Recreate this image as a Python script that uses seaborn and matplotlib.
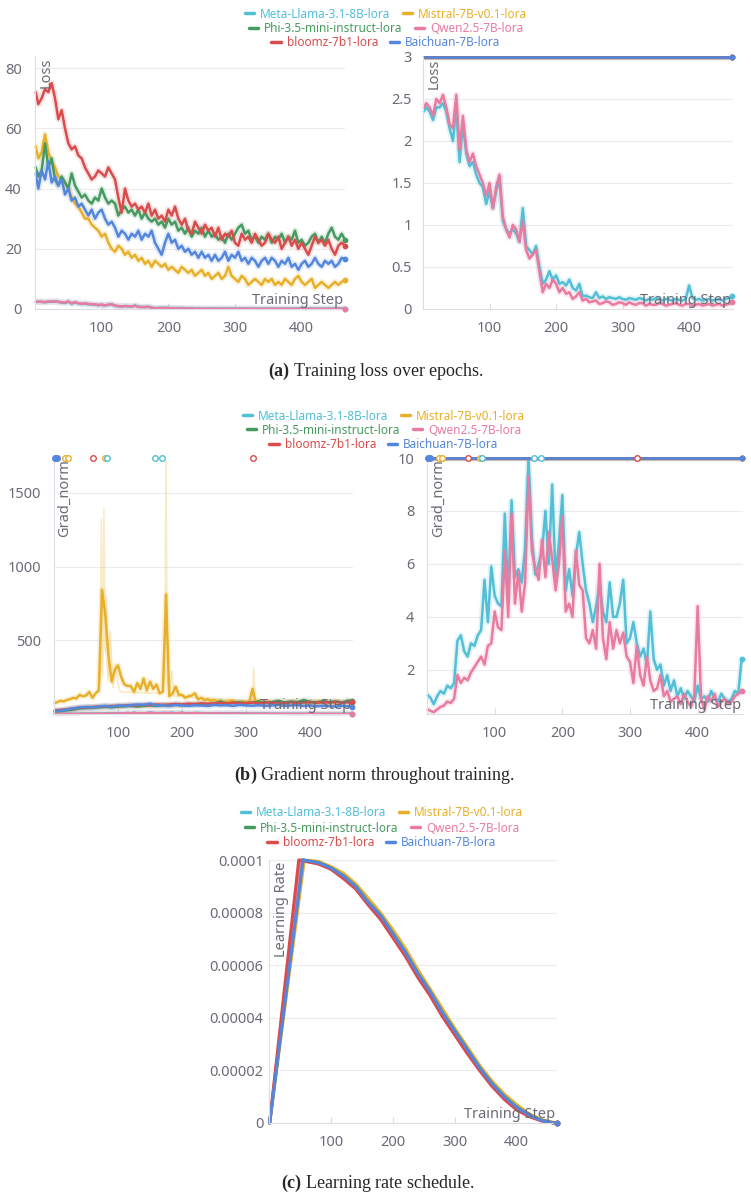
import numpy as np
import pandas as pd
import seaborn as sns
from matplotlib import pyplot as plt
from matplotlib.lines import Line2D

RUNS = ['Meta-Llama-3.1-8B-lora', 'Mistral-7B-v0.1-lora', 'Phi-3.5-mini-instruct-lora',
        'Qwen2.5-7B-lora', 'bloomz-7b1-lora', 'Baichuan-7B-lora']
COLORS = ['#52bfd6', '#e8b02a', '#479a5f', '#e87b9f', '#da4c4c', '#5387dd']
PALETTE = dict(zip(RUNS, COLORS))

STEPS_10 = [1] + list(range(10, 461, 10)) + [465]
STEPS_5 = [1] + list(range(5, 466, 5))

# loss (steps 1, 5, 10, ... 465)
LOSS_MISTRAL = [54, 50, 52, 58, 52, 49, 47, 44, 43, 42,
                40, 37, 35, 34, 32, 30, 30, 28, 27, 26,
                24, 25, 22, 20, 19, 21, 20, 18, 19, 17,
                18, 16, 17, 15, 16, 14, 16, 15, 14, 15,
                13, 14, 13, 12, 14, 13, 12, 13, 11, 12,
                13, 11, 12, 10, 11, 12, 10, 11, 14, 11,
                10, 9, 11, 10, 8, 9, 10, 9, 8, 10,
                9, 10, 8, 9, 8, 10, 9, 8, 10, 11,
                9, 8, 9, 10, 7, 8, 9, 8, 7, 8,
                9, 8, 9, 9.5]
LOSS_PHI = [47, 44, 46, 55, 47, 50, 43, 41, 44, 42,
            40, 45, 41, 39, 37, 38, 36, 35, 37, 36,
            40, 37, 35, 36, 35, 31, 33, 34, 32, 33,
            31, 33, 30, 32, 30, 29, 30, 28, 29, 27,
            30, 28, 29, 26, 27, 25, 27, 24, 26, 25,
            27, 24, 26, 24, 25, 23, 24, 22, 25, 23,
            25, 27, 28, 25, 26, 23, 24, 22, 24, 23,
            25, 22, 24, 23, 25, 22, 24, 23, 26, 22,
            23, 21, 22, 24, 25, 22, 24, 22, 25, 27,
            24, 23, 25, 23]
LOSS_BLOOMZ = [72, 68, 70, 73, 72, 75, 70, 63, 66, 60,
               55, 53, 54, 51, 50, 47, 45, 43, 44, 46,
               45, 44, 47, 45, 43, 37, 32, 40, 36, 34,
               35, 33, 34, 32, 35, 31, 33, 30, 31, 29,
               33, 31, 34, 30, 28, 30, 26, 25, 29, 27,
               25, 28, 26, 27, 24, 27, 23, 25, 24, 26,
               22, 21, 25, 23, 24, 22, 25, 23, 21, 22,
               25, 23, 22, 24, 20, 22, 24, 21, 23, 20,
               22, 20, 18, 21, 24, 22, 23, 21, 23, 20,
               18, 21, 22, 21]
LOSS_BAICHUAN = [45, 40, 46, 43, 49, 42, 44, 41, 43, 38,
                 40, 36, 37, 34, 35, 33, 31, 33, 30, 32,
                 33, 30, 28, 29, 27, 24, 26, 25, 23, 25,
                 24, 26, 23, 25, 24, 26, 22, 20, 18, 22,
                 25, 22, 23, 20, 21, 19, 20, 18, 19, 17,
                 19, 17, 18, 16, 18, 16, 17, 19, 16, 18,
                 17, 19, 16, 17, 15, 17, 16, 14, 16, 17,
                 15, 17, 16, 14, 16, 15, 17, 14, 15, 13,
                 15, 16, 14, 15, 17, 15, 14, 16, 15, 16,
                 14, 15, 17, 16.5]
LOSS_QWEN = [2.40, 2.45, 2.40, 2.30, 2.50, 2.45, 2.55, 2.40, 2.20, 2.15,
             2.55, 1.90, 2.30, 1.90, 1.75, 1.85, 1.70, 1.60, 1.50, 1.35,
             1.50, 1.20, 1.45, 1.60, 1.10, 0.95, 0.85, 1.00, 0.95, 0.80,
             1.05, 0.70, 0.60, 0.65, 0.70, 0.45, 0.20, 0.30, 0.25, 0.35,
             0.30, 0.20, 0.25, 0.18, 0.20, 0.12, 0.15, 0.20, 0.10, 0.12,
             0.08, 0.09, 0.10, 0.06, 0.07, 0.09, 0.08, 0.05, 0.06, 0.08,
             0.07, 0.05, 0.08, 0.06, 0.05, 0.07, 0.07, 0.04, 0.06, 0.05,
             0.05, 0.07, 0.06, 0.04, 0.05, 0.06, 0.07, 0.05, 0.04, 0.06,
             0.06, 0.04, 0.05, 0.06, 0.04, 0.05, 0.06, 0.04, 0.05, 0.06,
             0.04, 0.05, 0.06, 0.08]
LOSS_META = [2.35, 2.40, 2.35, 2.25, 2.40, 2.40, 2.45, 2.35, 2.15, 2.00,
             2.40, 1.75, 2.20, 1.85, 1.70, 1.75, 1.60, 1.50, 1.45, 1.25,
             1.40, 1.20, 1.40, 1.55, 1.05, 0.95, 0.90, 0.95, 0.90, 0.80,
             1.20, 0.75, 0.70, 0.65, 0.75, 0.50, 0.30, 0.35, 0.45, 0.35,
             0.40, 0.30, 0.32, 0.28, 0.35, 0.25, 0.22, 0.30, 0.15, 0.16,
             0.14, 0.13, 0.20, 0.13, 0.15, 0.12, 0.14, 0.13, 0.12, 0.14,
             0.12, 0.11, 0.13, 0.12, 0.11, 0.13, 0.12, 0.10, 0.12, 0.11,
             0.13, 0.12, 0.10, 0.12, 0.11, 0.10, 0.12, 0.11, 0.10, 0.12,
             0.28, 0.13, 0.11, 0.12, 0.10, 0.11, 0.12, 0.10, 0.11, 0.12,
             0.10, 0.12, 0.13, 0.15]

# grad_norm
GRAD_MISTRAL = [75, 80, 90, 85, 95, 100, 110, 105, 130, 120,
                125, 150, 110, 140, 160, 840, 680, 400, 220, 300,
                330, 250, 200, 190, 190, 150, 210, 170, 240, 160,
                220, 170, 200, 140, 150, 810, 120, 140, 185, 130,
                130, 110, 120, 125, 140, 100, 110, 95, 100, 90,
                95, 85, 90, 80, 85, 90, 90, 75, 80, 85,
                75, 80, 170, 80, 90, 75, 80, 85, 70, 80,
                75, 85, 70, 80, 75, 85, 80, 75, 85, 70,
                80, 75, 85, 80, 75, 85, 80, 75, 80, 85,
                75, 80, 85, 80]
# raw (unsmoothed) Mistral spikes, drawn faint
RAW_MISTRAL_STEPS = [68, 72, 74, 76, 78, 80, 82, 84, 88, 92, 96, 100, 104,
                     165, 170, 173, 175, 177, 180, 184, 188, 310, 312, 314]
RAW_MISTRAL = [150, 220, 1320, 260, 1390, 420, 800, 230, 560, 180, 340, 200, 150,
               140, 160, 260, 1720, 240, 130, 290, 120, 90, 310, 90]
GRAD_PHI = [15, 18, 25, 30, 38, 40, 42, 45, 48, 45,
            50, 52, 55, 50, 55, 58, 55, 60, 58, 62,
            60, 65, 62, 68, 65, 70, 85, 72, 75, 80,
            72, 78, 85, 75, 80, 90, 78, 85, 80, 95,
            82, 78, 88, 80, 85, 78, 92, 85]
GRAD_BLOOMZ = [25, 28, 32, 38, 42, 45, 48, 50, 52, 55,
               55, 58, 60, 58, 62, 60, 65, 62, 65, 68,
               65, 70, 68, 72, 70, 72, 75, 70, 78, 72,
               75, 78, 72, 80, 75, 78, 72, 80, 75, 78,
               82, 75, 80, 78, 82, 76, 80, 82]
GRAD_BAICHUAN = [20, 22, 30, 38, 45, 48, 45, 50, 55, 48,
                 58, 55, 60, 65, 62, 70, 58, 60, 55, 62,
                 58, 55, 60, 58, 55, 62, 58, 60, 55, 62,
                 58, 56, 60, 55, 58, 62, 55, 58, 60, 55,
                 58, 52, 56, 54, 50, 55, 52, 50]
GRAD_META = [1.05, 0.95, 0.70, 1.00, 1.20, 1.10, 1.40, 1.30, 1.50, 3.10,
             3.30, 2.70, 2.50, 3.00, 2.90, 3.30, 3.50, 5.40, 3.80, 5.90,
             4.80, 4.50, 4.40, 7.90, 4.70, 8.40, 5.50, 5.80, 5.30, 6.60,
             10.0, 7.00, 5.60, 6.00, 6.50, 8.00, 6.00, 9.00, 5.50, 6.80,
             8.60, 5.00, 5.80, 4.80, 6.30, 7.20, 6.00, 5.00, 4.50, 3.80,
             4.40, 5.20, 4.20, 3.80, 5.30, 4.00, 4.00, 4.50, 5.40, 3.00,
             3.20, 3.80, 3.00, 2.50, 2.80, 2.20, 4.20, 2.40, 2.00, 2.20,
             1.40, 1.80, 1.20, 1.60, 1.00, 1.30, 0.90, 1.20, 1.00, 0.80,
             1.40, 0.90, 1.00, 0.80, 1.20, 0.90, 0.80, 1.10, 0.90, 0.80,
             0.90, 1.20, 1.10, 2.40]
GRAD_QWEN = [0.50, 0.45, 0.40, 0.50, 0.60, 0.65, 0.80, 0.75, 0.90, 1.80,
             1.50, 1.70, 1.60, 1.90, 2.10, 2.30, 2.50, 2.20, 2.90, 3.00,
             4.20, 3.60, 3.50, 6.50, 4.00, 7.90, 4.50, 5.70, 4.20, 5.30,
             9.30, 6.50, 5.80, 5.40, 6.90, 5.50, 7.20, 6.20, 5.00, 6.00,
             7.80, 4.20, 4.50, 4.00, 6.50, 5.20, 5.00, 3.20, 3.00, 3.50,
             2.80, 6.00, 3.20, 2.40, 3.80, 2.80, 3.50, 3.00, 3.40, 2.50,
             2.30, 1.50, 2.90, 1.80, 1.40, 2.50, 1.60, 1.20, 1.30, 1.80,
             1.00, 1.20, 0.80, 0.90, 1.00, 0.70, 1.10, 0.80, 0.60, 1.00,
             4.40, 0.90, 0.50, 1.00, 0.80, 1.10, 0.60, 0.80, 0.90, 0.70,
             0.80, 1.00, 1.10, 1.20]
# points above the range, drawn as circles on the top edge
OUT_STEPS = [1, 5, 17, 22, 61, 79, 82, 158, 168, 311]
OUT_RUNS = ['Baichuan-7B-lora', 'Baichuan-7B-lora', 'Mistral-7B-v0.1-lora', 'Mistral-7B-v0.1-lora',
            'bloomz-7b1-lora', 'Mistral-7B-v0.1-lora', 'Meta-Llama-3.1-8B-lora',
            'Meta-Llama-3.1-8B-lora', 'Meta-Llama-3.1-8B-lora', 'bloomz-7b1-lora']

# learning rate (x1e-4)
LR_PEAK = {'Meta-Llama-3.1-8B-lora': 54, 'Mistral-7B-v0.1-lora': 57, 'Phi-3.5-mini-instruct-lora': 54,
           'Qwen2.5-7B-lora': 50, 'bloomz-7b1-lora': 48, 'Baichuan-7B-lora': 55}
LR_DECAY_STEPS = [80, 100, 120, 140, 160, 180, 200, 220, 240, 260, 280, 300,
                  320, 340, 360, 380, 400, 420, 440, 460, 465]
LR_LOW = [0.985, 0.965, 0.93, 0.89, 0.83, 0.775, 0.705, 0.635, 0.555, 0.485, 0.405, 0.335,
          0.265, 0.20, 0.14, 0.09, 0.05, 0.025, 0.008, 0.0, 0.0]
LR_MID = [0.99, 0.97, 0.94, 0.90, 0.84, 0.79, 0.72, 0.65, 0.57, 0.50, 0.42, 0.35,
          0.28, 0.21, 0.15, 0.10, 0.06, 0.03, 0.01, 0.0, 0.0]
LR_HIGH = [0.995, 0.975, 0.95, 0.91, 0.855, 0.80, 0.735, 0.665, 0.585, 0.51, 0.435, 0.36,
           0.29, 0.22, 0.16, 0.11, 0.07, 0.035, 0.013, 0.002, 0.0]

W, H = 751, 1199
GRAY = '#6b6b76'

sns.set_theme(style='white')
plt.rcParams['font.family'] = ['Noto Sans', 'DejaVu Sans']
plt.rcParams['mathtext.fontset'] = 'custom'
plt.rcParams['mathtext.bf'] = 'Liberation Serif:bold'
plt.rcParams['mathtext.rm'] = 'Liberation Serif'

fig = plt.figure(figsize=(W / 100, H / 100), dpi=100)


def add_ax(l, t, r, b):
    return fig.add_axes([l / W, 1 - b / H, (r - l) / W, (b - t) / H])


def to_frame(series, clip=None):
    parts = []
    for run, (steps, vals) in series.items():
        parts.append(pd.DataFrame({'step': steps, 'value': vals, 'run': run}))
    frame = pd.concat(parts, ignore_index=True)
    if clip is not None:
        frame['value'] = frame['value'].clip(upper=clip)
    return frame


def draw(ax, frame, lw=1.8, halo=True):
    # light band behind each run, then the run itself
    if halo:
        sns.lineplot(data=frame, x='step', y='value', hue='run', hue_order=RUNS, palette=PALETTE,
                     estimator=None, errorbar=None, legend=False, linewidth=4.5, alpha=0.16, ax=ax)
    sns.lineplot(data=frame, x='step', y='value', hue='run', hue_order=RUNS, palette=PALETTE,
                 estimator=None, errorbar=None, legend=False, linewidth=lw, ax=ax, clip_on=False)
    last = frame.groupby('run').tail(1)
    for run in RUNS:
        row = last[last['run'] == run]
        if len(row):
            ax.scatter(row['step'], row['value'], s=10, color=PALETTE[run], zorder=5, clip_on=False)


def style(ax, xlim, ylim, yticks, ylabels, ylab, ylab_x, ypad):
    ax.set_xlim(*xlim)
    ax.set_ylim(*ylim)
    ax.set_xticks([100, 200, 300, 400])
    ax.set_yticks(yticks)
    ax.set_yticklabels(ylabels)
    ax.set_xlabel('')
    ax.set_ylabel('')
    ax.grid(axis='y', color='#ebebf0', lw=0.8)
    ax.grid(axis='x', visible=False)
    for side in ['top', 'right']:
        ax.spines[side].set_visible(False)
    for side in ['left', 'bottom']:
        ax.spines[side].set_color('#dcdce3')
        ax.spines[side].set_linewidth(0.8)
    ax.tick_params(axis='x', direction='in', length=4, width=0.8, color='#dcdce3', labelsize=10.5,
                   labelcolor=GRAY, pad=8.5, bottom=True)
    ax.tick_params(axis='y', length=0, labelsize=10.5, labelcolor=GRAY, pad=ypad, left=False)
    ax.text(ylab_x, 0.995, ylab, rotation=90, ha='center', va='top', transform=ax.transAxes,
            fontsize=10.5, color=GRAY)
    ax.text(0.995, 0.005, 'Training Step', ha='right', va='bottom', transform=ax.transAxes,
            fontsize=10.5, color=GRAY, zorder=6)


def legend(rows_y, xc):
    rows = [RUNS[0:2], RUNS[2:4], RUNS[4:6]]
    for y, names in zip(rows_y, rows):
        handles = [Line2D([], [], color=PALETTE[n], lw=2.5) for n in names]
        fig.legend(handles, names, loc='center', bbox_to_anchor=(xc / W, 1 - y / H), ncol=2,
                   frameon=False, fontsize=8.5, handlelength=0.8, handletextpad=0.5,
                   columnspacing=1.0, labelcolor='linecolor', borderpad=0, borderaxespad=0)


def out_markers(ax, top):
    for s, run in zip(OUT_STEPS, OUT_RUNS):
        filled = run == 'Baichuan-7B-lora'
        ax.scatter([s], [top], s=16, facecolor=PALETTE[run] if filled else 'white',
                   edgecolor=PALETTE[run], linewidth=1, zorder=7, clip_on=False)


loss = {'Meta-Llama-3.1-8B-lora': (STEPS_5, LOSS_META),
        'Mistral-7B-v0.1-lora': (STEPS_5, LOSS_MISTRAL),
        'Phi-3.5-mini-instruct-lora': (STEPS_5, LOSS_PHI),
        'Qwen2.5-7B-lora': (STEPS_5, LOSS_QWEN),
        'bloomz-7b1-lora': (STEPS_5, LOSS_BLOOMZ),
        'Baichuan-7B-lora': (STEPS_5, LOSS_BAICHUAN)}
grad = {'Meta-Llama-3.1-8B-lora': (STEPS_5, GRAD_META),
        'Mistral-7B-v0.1-lora': (STEPS_5, GRAD_MISTRAL),
        'Phi-3.5-mini-instruct-lora': (STEPS_10, GRAD_PHI),
        'Qwen2.5-7B-lora': (STEPS_5, GRAD_QWEN),
        'bloomz-7b1-lora': (STEPS_10, GRAD_BLOOMZ),
        'Baichuan-7B-lora': (STEPS_10, GRAD_BAICHUAN)}
lr_vals = {'Meta-Llama-3.1-8B-lora': LR_MID, 'Mistral-7B-v0.1-lora': LR_HIGH,
           'Phi-3.5-mini-instruct-lora': LR_MID, 'Qwen2.5-7B-lora': LR_LOW,
           'bloomz-7b1-lora': LR_LOW, 'Baichuan-7B-lora': LR_MID}
lr = {run: ([1, LR_PEAK[run]] + LR_DECAY_STEPS, [v * 1e-4 for v in [0.0, 1.0] + lr_vals[run]])
      for run in RUNS}

# (a) loss
ax = add_ax(35, 56, 345, 309)
draw(ax, to_frame(loss))
style(ax, (0, 465), (0, 84), [0, 20, 40, 60, 80], ['0', '20', '40', '60', '80'], 'Loss', 0.035, 9.5)

ax = add_ax(423, 57, 733, 309)
draw(ax, to_frame(loss, clip=3))
style(ax, (0, 466), (0, 3), [0, 0.5, 1, 1.5, 2, 2.5, 3],
      ['0', '0.5', '1', '1.5', '2', '2.5', '3'], 'Loss', 0.035, 8)

legend([14, 29, 43], 386)
fig.text(376 / W, 1 - 371 / H, r'$\bf{(a)}$ Training loss over epochs.', ha='center', va='center',
         fontsize=13, family='Liberation Serif')

# (b) grad norm
ax = add_ax(54, 458, 353, 714)
raw = pd.DataFrame({'step': RAW_MISTRAL_STEPS, 'value': RAW_MISTRAL})
sns.lineplot(data=raw, x='step', y='value', color=PALETTE['Mistral-7B-v0.1-lora'], alpha=0.25,
             linewidth=1.2, estimator=None, errorbar=None, ax=ax)
draw(ax, to_frame(grad))
style(ax, (0, 467), (0, 1736), [500, 1000, 1500], ['500', '1000', '1500'], 'Grad_norm', 0.035, 9)
out_markers(ax, 1736)

ax = add_ax(427, 458, 743, 714)
draw(ax, to_frame(grad, clip=10))
style(ax, (0, 467), (0.33, 10), [2, 4, 6, 8, 10], ['2', '4', '6', '8', '10'], 'Grad_norm', 0.035, 9)
out_markers(ax, 10)

legend([416, 430, 445], 384)
fig.text(375 / W, 1 - 775 / H, r'$\bf{(b)}$ Gradient norm throughout training.', ha='center',
         va='center', fontsize=13, family='Liberation Serif')

# (c) learning rate
ax = add_ax(269, 860, 557, 1123)
draw(ax, to_frame(lr), lw=2.2, halo=False)
style(ax, (0, 465), (0, 1e-4), [0, 2e-5, 4e-5, 6e-5, 8e-5, 1e-4],
      ['0', '0.00002', '0.00004', '0.00006', '0.00008', '0.0001'], 'Learning Rate', 0.045, 4)

legend([813, 828, 843], 382)
fig.text(378 / W, 1 - 1183 / H, r'$\bf{(c)}$ Learning rate schedule.', ha='center', va='center',
         fontsize=13, family='Liberation Serif')

fig.savefig('out.png', dpi=100)
